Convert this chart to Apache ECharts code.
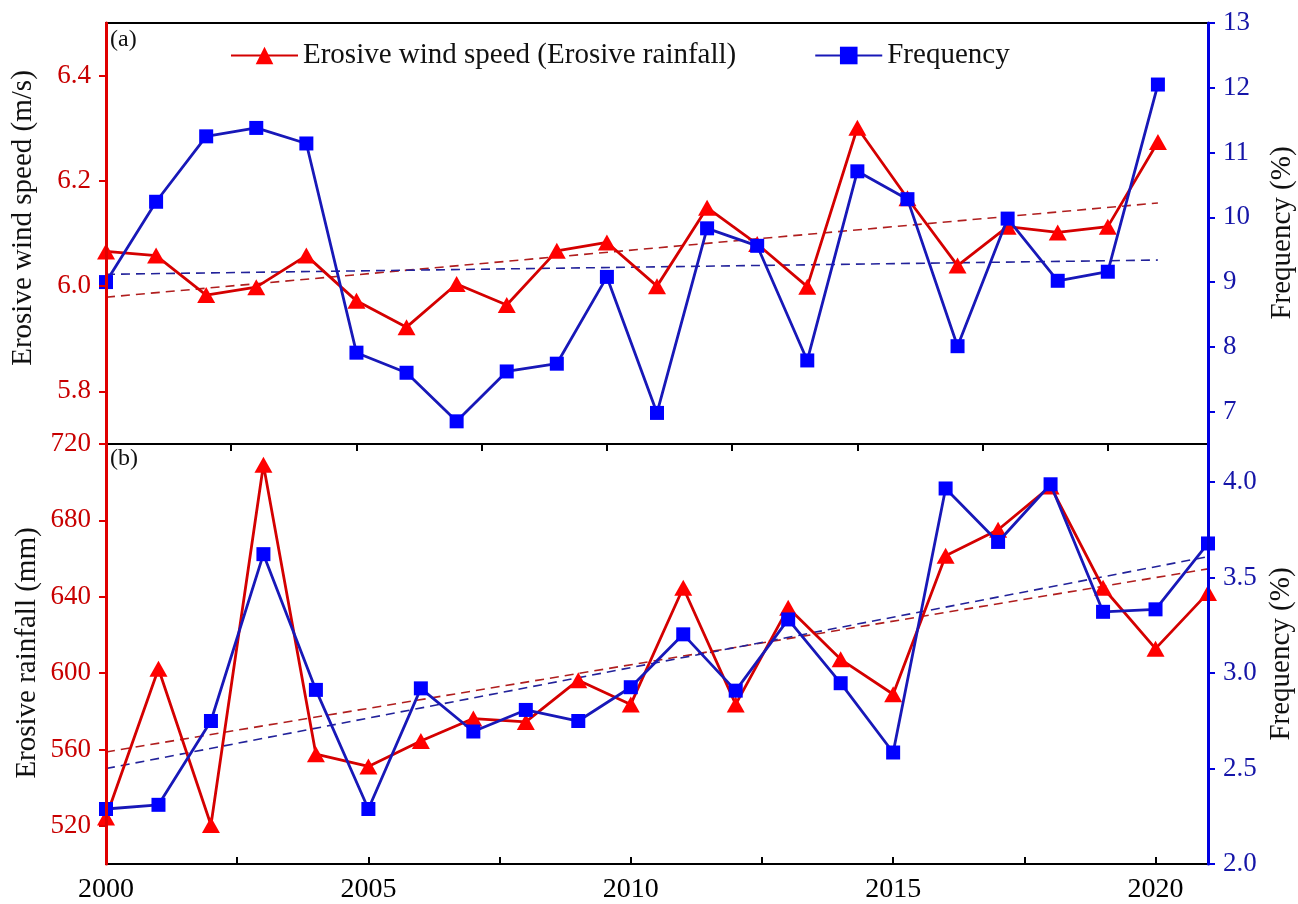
<!DOCTYPE html>
<html>
<head>
<meta charset="utf-8">
<script src="https://cdn.jsdelivr.net/npm/echarts@6/dist/echarts.min.js"></script>
<style>
html,body{margin:0;padding:0;background:#fff;}
#chart{width:1298px;height:904px;}
</style>
</head>
<body>
<div id="chart"></div>
<script>
// ---------- data ----------
const years = [2000,2001,2002,2003,2004,2005,2006,2007,2008,2009,2010,2011,2012,2013,2014,2015,2016,2017,2018,2019,2020,2021];
const windSpeed = [6.066,6.058,5.983,5.998,6.058,5.972,5.922,6.004,5.964,6.067,6.083,6.000,6.149,6.080,5.999,6.301,6.167,6.039,6.113,6.102,6.113,6.274];
const windFreq = [9.00,10.24,11.25,11.38,11.14,7.91,7.60,6.85,7.62,7.74,9.08,6.98,9.83,9.56,7.79,10.71,10.28,8.01,9.98,9.02,9.16,12.05];
const rainfall = [524.4,602.3,520.4,709.1,557.5,551.1,564.4,576.2,574.4,596.3,583.6,644.7,583.6,634.2,607.2,588.9,661.5,675.1,697.8,644.7,612.8,642.0];
const rainFreq = [2.288,2.310,2.749,3.623,2.912,2.288,2.920,2.694,2.807,2.749,2.926,3.203,2.908,3.281,2.947,2.584,3.967,3.687,3.989,3.321,3.334,3.679];
// trend lines (end points)
const trendYears = [2000, 2021];
const windTrend = [5.979, 6.158];
const windFreqTrend = [9.12, 9.34];
const rainTrend = [558.7, 654.6];
const rainFreqTrend = [2.50, 3.61];
// ticks
const windTicks = [5.8, 6.0, 6.2, 6.4];
const windFreqTicks = [7, 8, 9, 10, 11, 12, 13];
const rainTicks = [520, 560, 600, 640, 680, 720];
const rainFreqTicks = [2.0, 2.5, 3.0, 3.5, 4.0];
const topXTicks = [2002.5, 2005, 2007.5, 2010, 2012.5, 2015, 2017.5, 2020];
const bottomXTicks = [2002.5, 2005, 2007.5, 2010, 2012.5, 2015, 2017.5, 2020];
const bottomXLabels = [2000, 2005, 2010, 2015, 2020];
// names
const nameRed = 'Erosive wind speed (Erosive rainfall)';
const nameBlue = 'Frequency';

// ---------- styles ----------
const FF = 'Liberation Serif, Times New Roman, serif';
const RED_AXIS = '#E00000', RED_LBL = '#C80000', RED_LINE = '#D40000', RED_MK = '#FF0000';
const BLUE_AXIS = '#0000E0', BLUE_LBL = '#1515A8', BLUE_LINE = '#1818B8', BLUE_MK = '#0000FF';

function pairs(xs, ys){ return xs.map((x,i)=>[x, ys[i]]); }

function yAx(grid, pos, min, max, ticks, color, lblColor, fmt){
  return {
    gridIndex: grid, type: 'value', position: pos, min: min, max: max, z: 5,
    axisLine: {show: true, onZero: false, lineStyle: {color: color, width: 3}},
    axisTick: {show: true, inside: false, length: 7, lineStyle: {color: color, width: 2}, customValues: ticks},
    axisLabel: {show: true, customValues: ticks, formatter: fmt, color: lblColor, fontSize: 27, fontFamily: FF, margin: 15},
    splitLine: {show: false}
  };
}

const chart = echarts.init(document.getElementById('chart'), null, {renderer: 'canvas'});
const option = {
  animation: false,
  backgroundColor: '#fff',
  grid: [
    {left: 106, right: 90, top: 23, height: 421, show: true, borderColor: '#000', borderWidth: 2, backgroundColor: 'transparent'},
    {left: 106, right: 90, top: 444, height: 420, show: true, borderColor: '#000', borderWidth: 2, backgroundColor: 'transparent'}
  ],
  legend: {
    left: 230, top: 41, padding: 0, itemGap: 78, itemWidth: 67, itemHeight: 22,
    selectedMode: false,
    data: [nameRed, nameBlue],
    textStyle: {fontSize: 29, fontFamily: FF, color: '#111'}
  },
  xAxis: [
    {gridIndex: 0, type: 'value', min: 2000, max: 2022, position: 'bottom',
     axisLine: {show: true, onZero: false, lineStyle: {color: '#000', width: 2}},
     axisTick: {show: true, inside: false, length: 7, lineStyle: {color: '#000', width: 2}, customValues: topXTicks},
     axisLabel: {show: false}, splitLine: {show: false}},
    {gridIndex: 1, type: 'value', min: 2000, max: 2021, position: 'bottom',
     axisLine: {show: true, onZero: false, lineStyle: {color: '#000', width: 2}},
     axisTick: {show: true, inside: true, length: 7, lineStyle: {color: '#000', width: 2}, customValues: bottomXTicks},
     axisLabel: {show: true, customValues: bottomXLabels, formatter: v => String(v), color: '#000', fontSize: 28, fontFamily: FF, margin: 12},
     splitLine: {show: false}}
  ],
  yAxis: [
    yAx(0, 'left', 5.7, 6.5, windTicks, RED_AXIS, RED_LBL, v => v.toFixed(1)),
    yAx(0, 'right', 6.5, 13, windFreqTicks, BLUE_AXIS, BLUE_LBL, v => String(v)),
    yAx(1, 'left', 500, 720, rainTicks, RED_AXIS, RED_LBL, v => String(v)),
    yAx(1, 'right', 2.0, 4.2, rainFreqTicks, BLUE_AXIS, BLUE_LBL, v => v.toFixed(1))
  ],
  series: [
    {name: 'trend wind', type: 'line', xAxisIndex: 0, yAxisIndex: 0, data: pairs(trendYears, windTrend), symbol: 'none', z: 1,
     lineStyle: {color: '#B01E1E', width: 1.6, type: [9, 6]}},
    {name: 'trend wind freq', type: 'line', xAxisIndex: 0, yAxisIndex: 1, data: pairs(trendYears, windFreqTrend), symbol: 'none', z: 1,
     lineStyle: {color: '#22229A', width: 1.6, type: [9, 6]}},
    {name: 'trend rain', type: 'line', xAxisIndex: 1, yAxisIndex: 2, data: pairs(trendYears, rainTrend), symbol: 'none', z: 1,
     lineStyle: {color: '#B01E1E', width: 1.6, type: [9, 6]}},
    {name: 'trend rain freq', type: 'line', xAxisIndex: 1, yAxisIndex: 3, data: pairs(trendYears, rainFreqTrend), symbol: 'none', z: 1,
     lineStyle: {color: '#22229A', width: 1.6, type: [9, 6]}},
    {name: nameRed, type: 'line', xAxisIndex: 0, yAxisIndex: 0, data: pairs(years, windSpeed), z: 3,
     symbol: 'triangle', symbolSize: [18, 16], showAllSymbol: true,
     itemStyle: {color: RED_MK}, lineStyle: {color: RED_LINE, width: 2.8}},
    {name: nameBlue, type: 'line', xAxisIndex: 0, yAxisIndex: 1, data: pairs(years, windFreq), z: 4,
     symbol: 'rect', symbolSize: 14, showAllSymbol: true,
     itemStyle: {color: BLUE_MK}, lineStyle: {color: BLUE_LINE, width: 2.8}},
    {name: 'Erosive rainfall', type: 'line', xAxisIndex: 1, yAxisIndex: 2, data: pairs(years, rainfall), z: 3,
     symbol: 'triangle', symbolSize: [18, 16], showAllSymbol: true,
     itemStyle: {color: RED_MK}, lineStyle: {color: RED_LINE, width: 2.8}},
    {name: 'Frequency (b)', type: 'line', xAxisIndex: 1, yAxisIndex: 3, data: pairs(years, rainFreq), z: 4,
     symbol: 'rect', symbolSize: 14, showAllSymbol: true,
     itemStyle: {color: BLUE_MK}, lineStyle: {color: BLUE_LINE, width: 2.8}}
  ],
  graphic: [
    {type: 'text', x: 23, y: 218, rotation: Math.PI / 2,
     style: {text: 'Erosive wind speed (m/s)', font: '29px ' + FF, fill: '#111', align: 'center', verticalAlign: 'middle'}},
    {type: 'text', x: 27, y: 653, rotation: Math.PI / 2,
     style: {text: 'Erosive rainfall (mm)', font: '29px ' + FF, fill: '#111', align: 'center', verticalAlign: 'middle'}},
    {type: 'text', x: 1282, y: 233, rotation: Math.PI / 2,
     style: {text: 'Frequency (%)', font: '29px ' + FF, fill: '#111', align: 'center', verticalAlign: 'middle'}},
    {type: 'text', x: 1281, y: 654, rotation: Math.PI / 2,
     style: {text: 'Frequency (%)', font: '29px ' + FF, fill: '#111', align: 'center', verticalAlign: 'middle'}},
    {type: 'text', x: 110, y: 28, style: {text: '(a)', font: '24px ' + FF, fill: '#111'}},
    {type: 'text', x: 110, y: 447, style: {text: '(b)', font: '24px ' + FF, fill: '#111'}}
  ]
};
chart.setOption(option);
</script>
</body>
</html>
